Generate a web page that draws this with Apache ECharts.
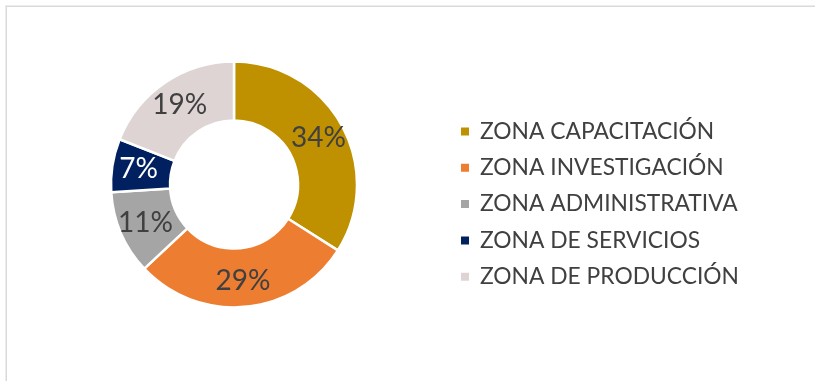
<!DOCTYPE html>
<html>
<head>
<meta charset="utf-8">
<script src="https://cdn.jsdelivr.net/npm/echarts@6/dist/echarts.min.js"></script>
<style>
  html, body { margin: 0; padding: 0; background: #ffffff; }
  #frame { position: absolute; left: 6px; top: 6px; width: 815px; height: 381px;
           border-left: 1px solid #d9d9d9; border-top: 1px solid #d9d9d9; box-shadow: -1px -1px 0 #ececec; }
  #chart { position: absolute; left: 0; top: 0; width: 815px; height: 381px; }
</style>
</head>
<body>
<div id="frame"></div>
<div id="chart"></div>
<script>
// Distribution of areas by zone (percent)
const zones = ['ZONA CAPACITACIÓN', 'ZONA INVESTIGACIÓN', 'ZONA ADMINISTRATIVA', 'ZONA DE SERVICIOS', 'ZONA DE PRODUCCIÓN'];
const shares = [34, 29, 11, 7, 19];
const zoneColors = ['#BF9000', '#ED7D31', '#A5A5A5', '#002060', '#DED4D4'];
const labelColors = ['#404040', '#404040', '#404040', '#ffffff', '#404040'];

const FONT = 'Lato, "Open Sans", sans-serif';

const chart = echarts.init(document.getElementById('chart'), null, { renderer: 'canvas' });

chart.setOption({
  animation: false,
  color: zoneColors,
  legend: {
    orient: 'vertical',
    left: 459,
    top: 120,
    padding: 0,
    itemWidth: 10,
    itemHeight: 10,
    itemGap: 13.3,
    icon: 'rect',
    textStyle: { fontFamily: FONT, fontSize: 22.8, lineHeight: 22, color: '#404040', padding: [0, 0, 0, 5] },
    data: zones
  },
  series: [{
    type: 'pie',
    center: [234, 184.5],
    radius: [64, 123],
    startAngle: 90,
    clockwise: true,
    avoidLabelOverlap: false,
    itemStyle: { borderColor: '#ffffff', borderWidth: 2.5 },
    label: {
      show: true,
      position: 'inside',
      fontFamily: FONT,
      fontSize: 28,
      formatter: p => p.value + '%'
    },
    labelLine: { show: false },
    emphasis: { disabled: true },
    data: zones.map((name, i) => ({
      name: name,
      value: shares[i],
      label: { color: labelColors[i] }
    }))
  }]
});
</script>
</body>
</html>
